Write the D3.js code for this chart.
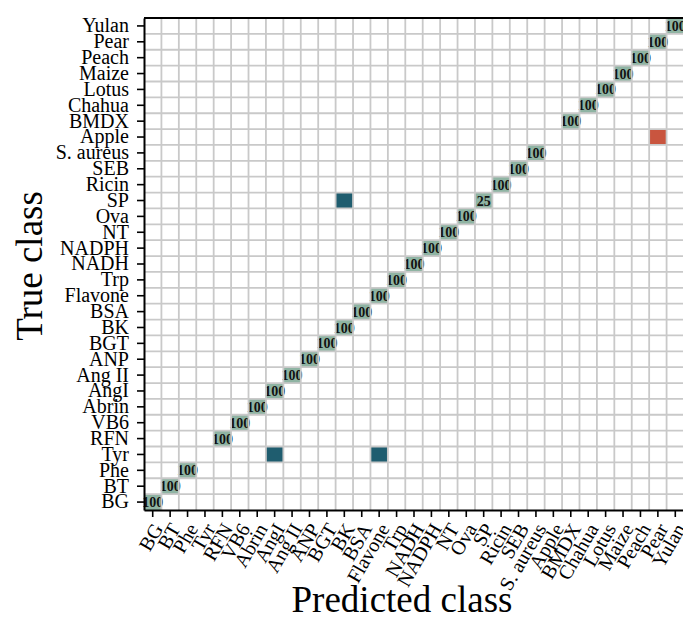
<!DOCTYPE html>
<html>
<head>
<meta charset="utf-8">
<script src="https://cdn.jsdelivr.net/npm/d3@7"></script>
<style>
  body { margin: 0; background: #fff; }
  svg { display: block; font-family: "Liberation Serif", "Times New Roman", serif; }
</style>
</head>
<body>
<div class="cm"></div>
<script>
// class names, in axis order (bottom to top / left to right)
var classes = ["BG","BT","Phe","Tyr","RFN","VB6","Abrin","AngI","Ang II","ANP","BGT","BK","BSA",
  "Flavone","Trp","NADH","NADPH","NT","Ova","SP","Ricin","SEB","S. aureus","Apple","BMDX",
  "Chahua","Lotus","Maize","Peach","Pear","Yulan"];

// non-empty cells of the matrix
var trueClass = ["BG","BT","Phe","Tyr","Tyr","RFN","VB6","Abrin","AngI","Ang II","ANP","BGT","BK",
  "BSA","Flavone","Trp","NADH","NADPH","NT","Ova","SP","SP","Ricin","SEB","S. aureus","Apple",
  "BMDX","Chahua","Lotus","Maize","Peach","Pear","Yulan"];
var predClass = ["BG","BT","Phe","AngI","Flavone","RFN","VB6","Abrin","AngI","Ang II","ANP","BGT","BK",
  "BSA","Flavone","Trp","NADH","NADPH","NT","Ova","BK","SP","Ricin","SEB","S. aureus","Pear",
  "BMDX","Chahua","Lotus","Maize","Peach","Pear","Yulan"];
var percent = [100,100,100,50,50,100,100,100,100,100,100,100,100,
  100,100,100,100,100,100,100,75,25,100,100,100,100,
  100,100,100,100,100,100,100];

var cells = trueClass.map(function(t, i){
  return {t: t, p: predClass[i], v: percent[i]};
});

var margin = {left: 144, right: -1, top: 18, bottom: 107};
var width = 683 - margin.left - margin.right;
var height = 617 - margin.top - margin.bottom;

var svg = d3.select(".cm").append("svg").attr("width", 683).attr("height", 617);
var g = svg.append("g").attr("transform", "translate(" + margin.left + "," + margin.top + ")");

var x = d3.scaleBand().domain(classes).range([0, width]);
var y = d3.scaleBand().domain(classes).range([height, 0]);

//tile colour: right class, partly wrong, fully wrong
function tileColor(d){
  if (d.t === d.p) return "#8fb4a3";
  if (d.v === 100) return "#c9553f";
  return "#1f5d6f";
}

g.selectAll("rect.tile").data(cells).enter().append("rect")
  .attr("class", "tile")
  .attr("x", function(d){ return x(d.p); })
  .attr("y", function(d){ return y(d.t); })
  .attr("width", x.bandwidth())
  .attr("height", y.bandwidth())
  .attr("fill", tileColor);

g.selectAll("text.lab").data(cells.filter(function(d){ return d.t === d.p; })).enter().append("text")
  .attr("class", "lab")
  .attr("x", function(d){ return x(d.p) + x.bandwidth() / 2; })
  .attr("y", function(d){ return y(d.t) + y.bandwidth() / 2; })
  .attr("dy", "0.36em")
  .attr("text-anchor", "middle")
  .style("font-size", "14px")
  .style("font-weight", "bold")
  .style("fill", "#111")
  .text(function(d){ return d.v; });

//grid lines between cells, drawn over the tiles
var grid = g.append("g").attr("stroke", "#c9c9c9").attr("stroke-width", 1.8);
classes.forEach(function(c, i){
  if (i > 0) {
    grid.append("line").attr("x1", x(c)).attr("x2", x(c)).attr("y1", 0).attr("y2", height);
    grid.append("line").attr("y1", y(c) + y.bandwidth()).attr("y2", y(c) + y.bandwidth()).attr("x1", 0).attr("x2", width);
  }
});
grid.append("line").attr("x1", 0).attr("x2", width).attr("y1", y("Yulan")).attr("y2", y("Yulan"));

//top border
g.append("line").attr("x1", 0).attr("x2", width).attr("y1", 0).attr("y2", 0)
  .attr("stroke", "#000").attr("stroke-width", 2);

//y axis
var yAxis = g.append("g").call(d3.axisLeft(y).tickSize(7).tickPadding(8).tickSizeOuter(0));
yAxis.select(".domain").attr("stroke-width", 2);
yAxis.selectAll(".tick line").attr("stroke-width", 1.6);
yAxis.selectAll("text").style("font-size", "20px").style("font-family", "Liberation Serif").attr("fill", "#000");

//x axis
var xAxis = g.append("g").attr("transform", "translate(0," + height + ")")
  .call(d3.axisBottom(x).tickSize(7).tickSizeOuter(0));
xAxis.select(".domain").attr("stroke-width", 2);
xAxis.selectAll(".tick line").attr("stroke-width", 1.6);
xAxis.selectAll("text")
  .attr("x", 0).attr("y", 0).attr("dy", "0.35em")
  .attr("text-anchor", "end")
  .attr("transform", "translate(5,15) rotate(-60)")
  .style("font-size", "20px").style("font-family", "Liberation Serif").attr("fill", "#000");

// axis titles
svg.append("text")
  .attr("transform", "translate(42,266) rotate(-90)")
  .attr("text-anchor", "middle")
  .style("font-size", "37px")
  .text("True class");

svg.append("text")
  .attr("x", 402).attr("y", 612)
  .attr("text-anchor", "middle")
  .style("font-size", "37px")
  .text("Predicted class");
</script>
</body>
</html>
